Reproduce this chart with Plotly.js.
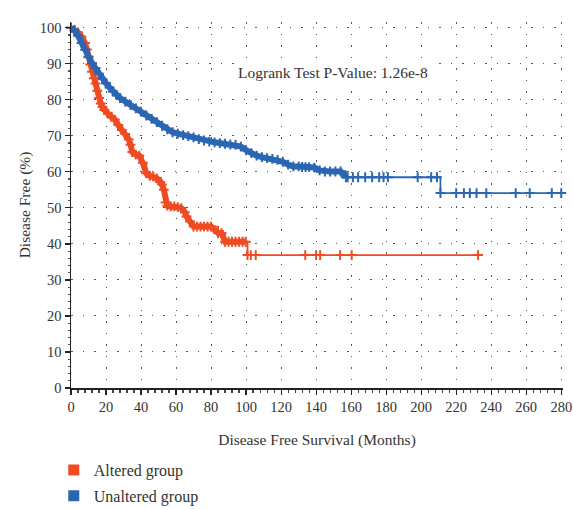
<!DOCTYPE html>
<html>
<head>
<meta charset="utf-8">
<script src="https://cdn.plot.ly/plotly-3.0.1.min.js"></script>
<style>html,body{margin:0;padding:0;background:#fff;}#chart{width:573px;height:509px;}</style>
</head>
<body>
<div id="chart"></div>
<script>
// Altered group (Kaplan-Meier steps / censor crosses)
const alteredMonths = [0,2,4,6,8,9,10,11,12,13,14,15,16,17,18,19,21,23,25,27,29,31,33,34,35,37,39,41,43,45,47,49,51,52,53,54,55,57,59,61,63,65,66,68,70,72,74,76,78,80,84,86,88,90,92,94,96,98,99.8,100.8,102.7,105.5,133.8,140,142.3,153.7,160.3,232.5];
const alteredFree   = [100,99.5,98.7,97.5,95.8,94.0,92.0,89.8,87.8,86.0,84.5,82.5,80.5,79.0,78.0,77.2,76.2,75.3,74.5,73.0,71.6,70.5,69.0,67.5,65.5,64.8,64.5,62.5,59.6,58.9,58.7,58.2,57.2,56.5,55.0,51.5,50.6,50.4,50.4,50.2,49.9,48.8,47.6,46.2,44.8,44.8,44.8,44.8,44.8,44.8,43.0,43.0,40.6,40.6,40.6,40.6,40.6,40.6,40.6,36.9,36.9,36.9,36.9,36.9,36.9,36.9,36.9,36.9];

// Unaltered group
const unalteredMonths = [0,2,4,6,8,10,12,14,16,18,20,22,24,26,28,31,34,37,40,43,46,49,52,55,58,61,64,67,70,73,76,79,82,85,88,91,94,97,100,103,106,109,112,115,118,121,124,127,130,132,134,136,139,142,145,148,151,154,157,158,161,164,168,172,176,178.5,181,198,205.7,209,211,220,224.4,227.8,231.6,237.2,254,262,274.6,280];
const unalteredFree   = [100,99.2,97.8,95.8,93.9,91.8,90.2,88.8,87.2,85.7,84.6,83.4,82.3,81.3,80.5,79.5,78.5,77.6,76.7,75.6,74.7,73.8,72.8,71.8,71.0,70.6,70.2,69.9,69.6,69.1,68.7,68.4,68.2,68.0,67.8,67.6,67.5,67.0,66.0,65.2,64.5,64.1,63.8,63.6,63.3,62.8,62.0,61.5,61.5,61.4,61.3,61.3,61.2,60.4,60.1,60.1,60.1,60.1,58.5,58.5,58.5,58.5,58.5,58.5,58.5,58.5,58.5,58.5,58.5,58.5,54.1,54.1,54.1,54.1,54.1,54.1,54.1,54.1,54.1,54.1];

// Where censored cases are so dense that the crosses merge into a band (months)
const alteredDenseUntil = 100;
const unalteredDenseUntil = 157;

const groupNames = ["Altered group", "Unaltered group"];
const pValueText = "Logrank Test P-Value: 1.26e-8";

const RED = "#ef4b22";
const BLUE = "#2a66b2";
const FONT = "Liberation Serif, DejaVu Serif, serif";

function denseBand(x, y, until, color) {
  const xs = [], ys = [];
  for (let i = 0; i < x.length; i++) { if (x[i] <= until) { xs.push(x[i]); ys.push(y[i]); } }
  return {
    x: xs, y: ys, type: "scatter", mode: "lines",
    line: {shape: "linear", color: color, width: 6},
    showlegend: false, hoverinfo: "skip", cliponaxis: false
  };
}
function kmTrace(x, y, color) {
  return {
    x: x, y: y, type: "scatter", mode: "lines+markers",
    line: {shape: "hv", color: color, width: 1.8},
    marker: {symbol: "cross-thin", size: 7, color: color, line: {width: 2, color: color}},
    showlegend: false, hoverinfo: "skip", cliponaxis: false
  };
}
function legendTrace(name, color, group) {
  return {
    x: [null], y: [null], type: "scatter", mode: "markers", name: name,
    legendgroup: group,
    marker: {symbol: "square", size: 11, color: color}
  };
}

const data = [
  denseBand(alteredMonths, alteredFree, alteredDenseUntil, RED),
  kmTrace(alteredMonths, alteredFree, RED),
  denseBand(unalteredMonths, unalteredFree, unalteredDenseUntil, BLUE),
  kmTrace(unalteredMonths, unalteredFree, BLUE),
  legendTrace(groupNames[0], RED, "a"),
  legendTrace(groupNames[1], BLUE, "b")
];

const layout = {
  width: 573, height: 509,
  margin: {l: 71, r: 10, t: 22, b: 121, autoexpand: false},
  paper_bgcolor: "#fff", plot_bgcolor: "#fff",
  font: {family: FONT, size: 14, color: "#333"},
  xaxis: {
    range: [0, 281], dtick: 20, tick0: 0, automargin: false,
    showline: true, linecolor: "#222", linewidth: 1.5,
    ticks: "outside", ticklen: 5, tickcolor: "#222", tickwidth: 1.2,
    minor: {dtick: 4, ticks: "outside", ticklen: 3, tickcolor: "#444", showgrid: false},
    showgrid: true, gridcolor: "#555", gridwidth: 1, griddash: "1.5px,10px",
    zeroline: false, ticklabeloverflow: "allow",
    tickfont: {family: FONT, size: 14.5, color: "#333"},
    title: {text: "Disease Free Survival (Months)", font: {family: FONT, size: 15.5, color: "#333"}}
  },
  yaxis: {
    range: [0, 101.6], dtick: 10, tick0: 0, automargin: false,
    showline: true, linecolor: "#222", linewidth: 1.5,
    ticks: "outside", ticklen: 5, tickcolor: "#222", tickwidth: 1.2,
    minor: {dtick: 2, ticks: "outside", ticklen: 2, tickcolor: "#555", showgrid: false},
    showgrid: true, gridcolor: "#555", gridwidth: 1, griddash: "1.5px,10px",
    zeroline: false,
    tickfont: {family: FONT, size: 14.5, color: "#333"},
    title: {text: "Disease Free (%)", font: {family: FONT, size: 15.5, color: "#333"}}
  },
  showlegend: true,
  legend: {
    x: -0.035, xanchor: "left",
    y: -0.178, yanchor: "top",
    orientation: "v", tracegroupgap: 2,
    font: {family: FONT, size: 16, color: "#333"},
    bgcolor: "rgba(0,0,0,0)", itemwidth: 30
  },
  annotations: [{
    text: pValueText, xref: "paper", yref: "paper",
    x: 0.532, y: 0.861, xanchor: "center", yanchor: "middle",
    showarrow: false, font: {family: FONT, size: 15.5, color: "#333"},
    bgcolor: "#fff"
  }]
};

Plotly.newPlot("chart", data, layout, {displayModeBar: false, staticPlot: true});
</script>
</body>
</html>
